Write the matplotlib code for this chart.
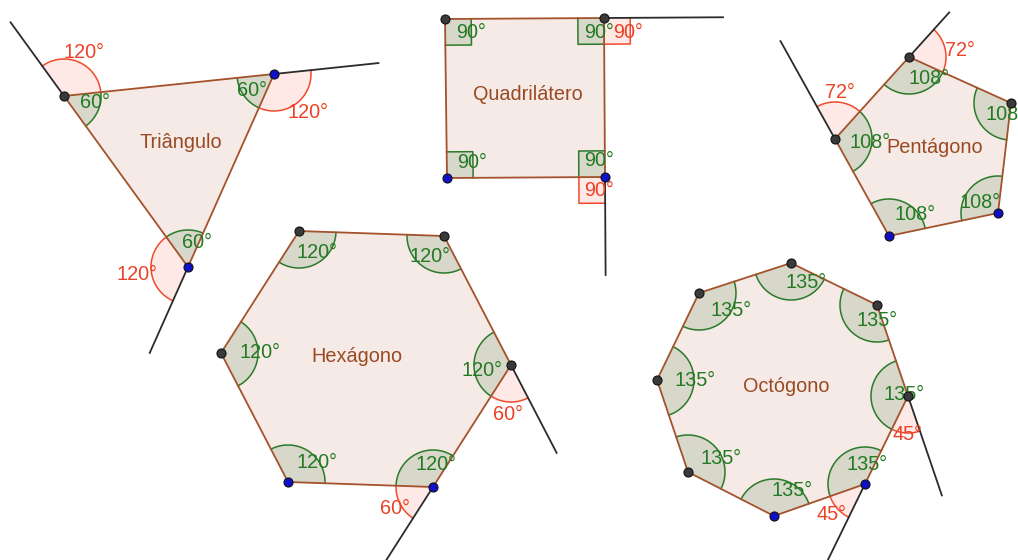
import numpy as np
import matplotlib
matplotlib.use("Agg")
import matplotlib.pyplot as plt
from matplotlib.patches import Polygon

# ---------------- data ----------------
polygon_names = ["Triângulo", "Quadrilátero", "Pentágono", "Hexágono", "Octógono"]
interior_angles = [60, 90, 108, 120, 135]
exterior_angles = [120, 90, 72, 60, 45]

tri_x = [64, 274, 188]
tri_y = [96, 74, 267]
quad_x = [445, 604, 605, 447]
quad_y = [19, 18, 177, 178]
pent_x = [889, 835, 909, 1011, 998]
pent_y = [236, 139, 57, 103, 213]
hex_x = [299, 444, 511, 433, 288, 221]
hex_y = [231, 236, 365, 487, 482, 353]
oct_x = [791, 877, 908, 865, 774, 688, 657, 699]
oct_y = [263, 305, 396, 484, 516, 472, 380, 293]

# vertices showing an exterior angle, and blue (free) points
tri_ext, quad_ext, pent_ext, hex_ext, oct_ext = [0, 1, 2], [1, 2], [1, 2], [2, 3], [2, 3]
tri_blue, quad_blue, pent_blue, hex_blue, oct_blue = [1, 2], [2, 3], [0, 4], [3, 4], [3, 4]

# ---------------- layout (label offsets from vertex, extension lengths) ----------------
tri_in_off = [(31, 6), (-22, 17), (9, -24)]
tri_out_off = [(20, -44), (34, 38), (-51, 8)]
tri_ext_len = [91, 105, 94]
quad_in_off = [(26, 14), (-5, 15), (-6, -17), (25, -16)]
quad_out_off = [(24, 15), (-6, 13)]
quad_ext_len = [119, 98]
pent_in_off = [(26, -21), (35, 3), (20, 21), (-5, 12), (-18, -11)]
pent_out_off = [(5, -46), (51, -7)]
pent_ext_len = [112, 60]
hex_in_off = [(18, 21), (-14, 21), (-29, 5), (3, -22), (29, -20), (39, 0)]
hex_out_off = [(-3, 50), (-38, 21)]
hex_ext_len = [99, 92]
oct_in_off = [(15, 19), (0, 15), (-4, -1), (2, -19), (18, -26), (33, -14), (38, 0), (32, 17)]
oct_out_off = [(0, 39), (-33, 30)]
oct_ext_len = [105, 92]
name_off = [(5, -3), (3, -4), (6, -2), (-9, -3), (4, -2)]

R = 37  # angle radius (px)

POLY_FILL = "#f5eae6"
POLY_EDGE = "#a3522c"
NAME_COL = "#9a4a22"
GREEN_FILL = "#2f6f2f"
GREEN = "#2a7a2a"
GREEN_TXT = "#237a23"
RED = "#f04a2a"
RED_TXT = "#ec4226"
FONT = "Liberation Sans"
FS = 14.3

fig = plt.figure(figsize=(10.18, 5.60), dpi=100)
ax = fig.add_axes([0, 0, 1, 1])
ax.set_xlim(0, 1018)
ax.set_ylim(560, 0)
ax.axis("off")


def unit(v):
    v = np.asarray(v, float)
    return v / np.hypot(*v)


def sector(V, u, v, fill, line, alpha, right):
    V = np.asarray(V, float)
    if right:
        s = R / np.sqrt(2)
        pts = [V, V + s * u, V + s * (u + v), V + s * v]
        ax.add_patch(Polygon(pts, closed=True, facecolor=fill, alpha=alpha, edgecolor="none", zorder=3))
        ax.plot([p[0] for p in pts[1:]], [p[1] for p in pts[1:]], color=line, lw=1.1, zorder=4)
        return
    a = np.arctan2(u[1], u[0])
    b = np.arctan2(v[1], v[0])
    d = (b - a + np.pi) % (2 * np.pi) - np.pi
    t = np.linspace(a, a + d, 60)
    arc = np.column_stack([V[0] + R * np.cos(t), V[1] + R * np.sin(t)])
    pts = np.vstack([V, arc])
    ax.add_patch(Polygon(pts, closed=True, facecolor=fill, alpha=alpha, edgecolor="none", zorder=3))
    ax.plot(arc[:, 0], arc[:, 1], color=line, lw=1.1, zorder=4)


def draw(xs, ys, name, ang_in, ang_out, ext_idx, blue_idx, in_off, out_off, ext_len, noff):
    P = np.column_stack([xs, ys]).astype(float)
    n = len(P)
    ax.add_patch(Polygon(P, closed=True, facecolor=POLY_FILL, edgecolor="none", zorder=1))
    for i in range(n):
        V = P[i]
        u = unit(P[i - 1] - V)
        v = unit(P[(i + 1) % n] - V)
        sector(V, u, v, GREEN_FILL, GREEN, 0.15, ang_in == 90)
        ax.text(V[0] + in_off[i][0], V[1] + in_off[i][1], f"{ang_in}°", color=GREEN_TXT,
                fontsize=FS, family=FONT, ha="center", va="center", zorder=8)
    for k, i in enumerate(ext_idx):
        V = P[i]
        e = unit(V - P[i - 1])
        v = unit(P[(i + 1) % n] - V)
        sector(V, e, v, "#ff2a10", RED, 0.10, ang_out == 90)
        end = V + ext_len[k] * e
        ax.plot([V[0], end[0]], [V[1], end[1]], color="#2b2b2b", lw=1.3, zorder=5)
        ax.text(V[0] + out_off[k][0], V[1] + out_off[k][1], f"{ang_out}°", color=RED_TXT,
                fontsize=FS, family=FONT, ha="center", va="center", zorder=8)
    Pc = np.vstack([P, P[:1]])
    ax.plot(Pc[:, 0], Pc[:, 1], color=POLY_EDGE, lw=1.3, zorder=6)
    for i in range(n):
        c = "#1010c8" if i in blue_idx else "#3a3a3a"
        ax.plot(P[i, 0], P[i, 1], "o", ms=6.5, mfc=c, mec="#111111", mew=0.8, zorder=9)
    cx, cy = P.mean(axis=0)
    ax.text(cx + noff[0], cy + noff[1], name, color=NAME_COL, fontsize=FS, family=FONT,
            ha="center", va="center", zorder=8)


draw(tri_x, tri_y, polygon_names[0], interior_angles[0], exterior_angles[0], tri_ext, tri_blue,
     tri_in_off, tri_out_off, tri_ext_len, name_off[0])
draw(quad_x, quad_y, polygon_names[1], interior_angles[1], exterior_angles[1], quad_ext, quad_blue,
     quad_in_off, quad_out_off, quad_ext_len, name_off[1])
draw(pent_x, pent_y, polygon_names[2], interior_angles[2], exterior_angles[2], pent_ext, pent_blue,
     pent_in_off, pent_out_off, pent_ext_len, name_off[2])
draw(hex_x, hex_y, polygon_names[3], interior_angles[3], exterior_angles[3], hex_ext, hex_blue,
     hex_in_off, hex_out_off, hex_ext_len, name_off[3])
draw(oct_x, oct_y, polygon_names[4], interior_angles[4], exterior_angles[4], oct_ext, oct_blue,
     oct_in_off, oct_out_off, oct_ext_len, name_off[4])

fig.savefig("out.png", dpi=100)
